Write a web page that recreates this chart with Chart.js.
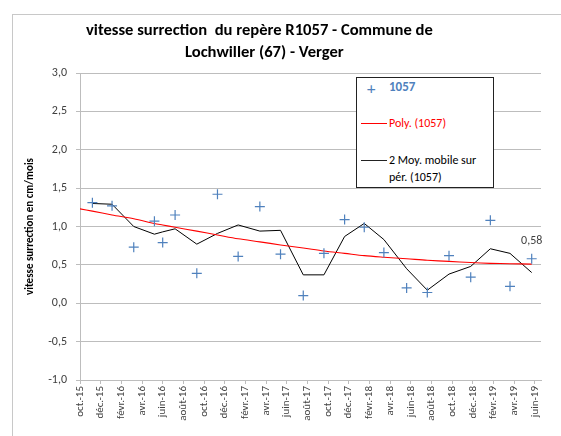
<!DOCTYPE html>
<html>
<head>
<meta charset="utf-8">
<script src="https://cdn.jsdelivr.net/npm/chart.js@4/dist/chart.umd.min.js"></script>
<style>
  body { margin: 0; width: 561px; height: 436px; overflow: hidden; background: #fff; position: relative; font-family: Carlito, Lato, sans-serif; }
  #frame { position: absolute; left: 12px; top: 14px; width: 620px; height: 500px; border: 1px solid #c8c8c8; }
  #wrap { position: absolute; left: 0; top: 0; width: 561px; height: 436px; }
  .title { position: absolute; font-weight: bold; font-size: 16.6px; color: #000; white-space: nowrap; }
  #legend { position: absolute; left: 356px; top: 77px; width: 136px; height: 109px; background: #fff; border: 1px solid #222; font-size: 12px; }
  #legend .it { position: absolute; white-space: nowrap; }
  #legend .ln { position: absolute; height: 0; width: 26px; left: 4px; }
</style>
</head>
<body>
<div id="frame"></div>
<div id="wrap"><canvas id="chart" width="561" height="436"></canvas></div>
<div class="title" style="left:86px; top:19px;">vitesse surrection&nbsp; du repère R1057 - Commune de</div>
<div class="title" style="left:185px; top:41px;">Lochwiller (67) - Verger</div>
<div id="legend">
  <div class="it" style="left:10px; top:0px; color:#4F81BD; font-size:17px;">+</div>
  <div class="it" style="left:32px; top:1px; color:#4F81BD; font-weight:bold; font-size:13px;">1057</div>
  <div class="ln" style="top:45px; border-top:1px solid #ff0000;"></div>
  <div class="it" style="left:32px; top:38px; color:#ff0000;">Poly. (1057)</div>
  <div class="ln" style="top:82px; border-top:1px solid #222;"></div>
  <div class="it" style="left:32px; top:75px; color:#000;">2 Moy. mobile sur</div>
  <div class="it" style="left:32px; top:92px; color:#000;">pér. (1057)</div>
</div>
<script>
// x = months since oct. 2015 (tick every 2 months)
const tickLabels = ['oct.-15','déc.-15','févr.-16','avr.-16','juin-16','août-16','oct.-16','déc.-16',
  'févr.-17','avr.-17','juin-17','août-17','oct.-17','déc.-17','févr.-18','avr.-18','juin-18',
  'août-18','oct.-18','déc.-18','févr.-19','avr.-19','juin-19'];
const measureMonths = [1.2, 3.1, 5.2, 7.2, 8.0, 9.2, 11.3, 13.3, 15.3, 17.4, 19.4, 21.6, 23.6, 25.6,
  27.5, 29.4, 31.6, 33.6, 35.7, 37.8, 39.7, 41.6, 43.7];
const speed1057 = [1.31, 1.27, 0.73, 1.07, 0.79, 1.15, 0.39, 1.42, 0.61, 1.26, 0.64, 0.10, 0.65, 1.09,
  0.99, 0.66, 0.20, 0.14, 0.62, 0.34, 1.08, 0.22, 0.58];
const movingAvg = [1.30, 1.29, 1.00, 0.90, 0.93, 0.97, 0.77, 0.91, 1.02, 0.94, 0.95, 0.37, 0.37, 0.87,
  1.04, 0.83, 0.45, 0.17, 0.38, 0.48, 0.71, 0.65, 0.40];
const polyMonths = [0].concat(measureMonths);
const polyTrend = [1.23, 1.20, 1.15, 1.10, 1.04, 1.02, 0.99, 0.94, 0.89, 0.84, 0.80, 0.76, 0.72, 0.68,
  0.65, 0.62, 0.60, 0.58, 0.56, 0.545, 0.53, 0.52, 0.515, 0.51];

function pts(xs, ys) { return xs.map((x, i) => ({ x: x, y: ys[i] })); }

const lastLabel = {
  id: 'lastLabel',
  afterDatasetsDraw(chart) {
    const meta = chart.getDatasetMeta(0);
    const p = meta.data[meta.data.length - 1];
    const v = speed1057[speed1057.length - 1];
    const ctx = chart.ctx;
    ctx.save();
    ctx.font = '12px Carlito, Lato, sans-serif';
    ctx.fillStyle = '#404040';
    ctx.textAlign = 'center';
    ctx.textBaseline = 'middle';
    ctx.fillText(v.toFixed(2).replace('.', ','), p.x, p.y - 18);
    ctx.restore();
  }
};

const gridCol = '#bdbdbd';
new Chart(document.getElementById('chart'), {
  type: 'line',
  data: {
    datasets: [{
      label: '1057',
      data: pts(measureMonths, speed1057),
      showLine: false,
      pointStyle: 'cross',
      pointRadius: 5,
      borderColor: '#4F81BD',
      pointBorderWidth: 1.2
    }, {
      label: 'Poly. (1057)',
      data: pts(polyMonths, polyTrend),
      borderColor: '#ff0000',
      borderWidth: 1.1,
      pointRadius: 0,
      tension: 0.3
    }, {
      label: '2 Moy. mobile sur pér. (1057)',
      data: pts(measureMonths, movingAvg),
      borderColor: '#000000',
      borderWidth: 1,
      pointRadius: 0
    }]
  },
  options: {
    responsive: false,
    animation: false,
    layout: { padding: { left: 0, top: 73, right: 20, bottom: 0 } },
    plugins: { legend: { display: false }, tooltip: { enabled: false } },
    scales: {
      x: {
        type: 'linear',
        min: 0,
        max: 44.6,
        afterBuildTicks: (s) => { s.ticks = tickLabels.map((t, i) => ({ value: i * 2 })); },
        afterFit: (s) => { s.height = 56; },
        grid: { drawOnChartArea: false, drawTicks: true, tickLength: 4, color: gridCol },
        border: { display: true, color: gridCol },
        ticks: {
          autoSkip: false,
          minRotation: 90,
          maxRotation: 90,
          padding: 2,
          color: '#404040',
          font: { size: 11, family: 'Carlito, Lato, sans-serif' },
          callback: (v) => tickLabels[Math.round(v / 2)]
        }
      },
      y: {
        min: -1,
        max: 3,
        afterFit: (s) => { s.width = 80; },
        grid: { color: gridCol, tickLength: 4 },
        border: { display: true, color: gridCol },
        ticks: {
          stepSize: 0.5,
          padding: 9,
          color: '#404040',
          font: { size: 12, family: 'Carlito, Lato, sans-serif' },
          callback: (v) => v.toFixed(1).replace('.', ',')
        },
        title: {
          display: true,
          text: 'vitesse surrection en cm/mois',
          color: '#000',
          padding: { top: 24, bottom: 0 },
          font: { size: 11, weight: 'bold', family: 'Carlito, Lato, sans-serif' }
        }
      }
    }
  },
  plugins: [lastLabel]
});
</script>
</body>
</html>
